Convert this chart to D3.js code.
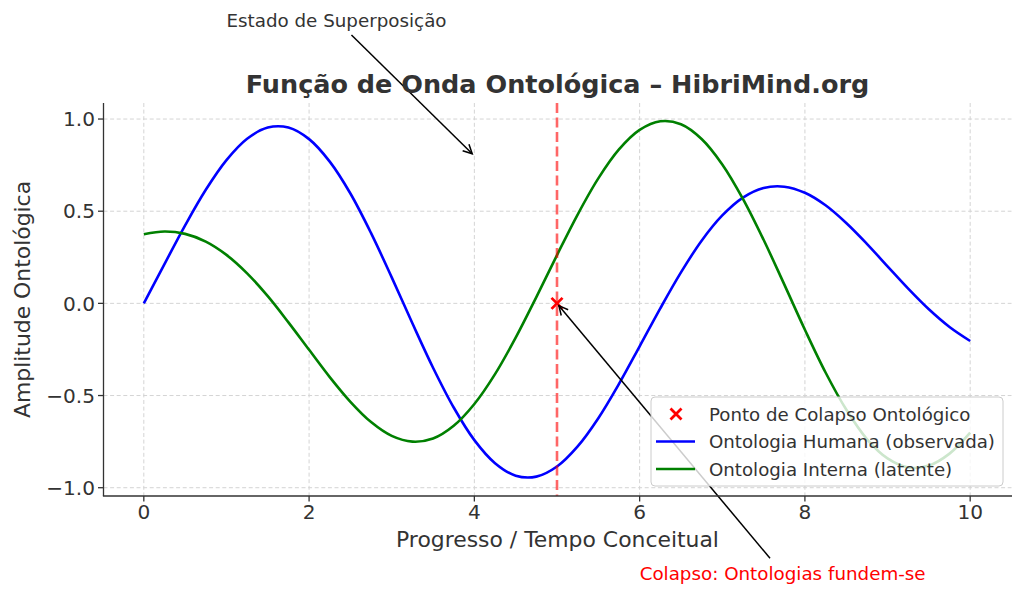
<!DOCTYPE html>
<html><head><meta charset="utf-8">
<script src="https://cdn.jsdelivr.net/npm/d3@7"></script>
<style>
body{margin:0;background:#fff}
svg{display:block}
text{font-family:"DejaVu Sans","Liberation Sans",sans-serif}
</style>
</head><body>
<svg id="chart" width="1024" height="597"></svg>
<script>
// ---- data ----
const xValues = [0,0.25,0.5,0.75,1,1.25,1.5,1.75,2,2.25,2.5,2.75,3,3.25,3.5,3.75,4,4.25,4.5,4.75,5,
  5.25,5.5,5.75,6,6.25,6.5,6.75,7,7.25,7.5,7.75,8,8.25,8.5,8.75,9,9.25,9.5,9.75,10];
const humana = [0,0.213,0.423,0.616,0.777,0.893,0.954,0.954,0.891,0.769,0.596,0.381,0.141,-0.108,
  -0.349,-0.565,-0.742,-0.867,-0.935,-0.940,-0.885,-0.776,-0.623,-0.437,-0.233,-0.027,0.168,0.340,
  0.477,0.574,0.626,0.633,0.600,0.532,0.436,0.323,0.201,0.080,-0.032,-0.128,-0.204];
const interna = [0.375,0.390,0.377,0.335,0.263,0.163,0.039,-0.103,-0.252,-0.400,-0.534,-0.644,-0.719,
  -0.750,-0.733,-0.664,-0.546,-0.384,-0.186,0.034,0.262,0.482,0.678,0.835,0.941,0.988,0.972,0.892,
  0.754,0.567,0.345,0.103,-0.143,-0.375,-0.576,-0.736,-0.841,-0.890,-0.880,-0.815,-0.701];
const xTicks = [0,2,4,6,8,10];
const yTicks = [-1,-0.5,0,0.5,1];
const collapseX = [5];
const collapseY = [0];
const superpositionTarget = [4, 0.8];
const superpositionTextPos = [1, 1.5];
const collapseTextPos = [6, -1.5];
const seriesNames = ["Ponto de Colapso Ontológico","Ontologia Humana (observada)","Ontologia Interna (latente)"];
const titleText = "Função de Onda Ontológica – HibriMind.org";
const xLabel = "Progresso / Tempo Conceitual";
const yLabel = "Amplitude Ontológica";
const superText = "Estado de Superposição";
const collapseText = "Colapso: Ontologias fundem-se";

// ---- layout ----
const svg = d3.select("#chart");
const L = 103.5, R = 1011.5, T = 103, B = 496;
const x = d3.scaleLinear().domain([-0.5, 10.5]).range([102.5, 1011.5]);
const y = d3.scaleLinear().domain([-1.045, 1.087]).range([B, T]);
const ink = "#333";

// grid
const grid = svg.append("g");
grid.selectAll(".gx").data(xTicks).join("line")
  .attr("x1", d => x(d)).attr("x2", d => x(d)).attr("y1", T).attr("y2", B)
  .attr("stroke", "#d4d4d4").attr("stroke-width", 1).attr("stroke-dasharray", "4,2.6");
grid.selectAll(".gy").data(yTicks).join("line")
  .attr("x1", L).attr("x2", R).attr("y1", d => y(d)).attr("y2", d => y(d))
  .attr("stroke", "#d4d4d4").attr("stroke-width", 1).attr("stroke-dasharray", "4,2.6");

// lines
const line = d3.line().x(d => x(d[0])).y(d => y(d[1])).curve(d3.curveCatmullRom.alpha(0.5));
svg.append("path").datum(xValues.map((v, i) => [v, humana[i]]))
  .attr("d", line).attr("fill", "none").attr("stroke", "#0000ff").attr("stroke-width", 2.6);
svg.append("path").datum(xValues.map((v, i) => [v, interna[i]]))
  .attr("d", line).attr("fill", "none").attr("stroke", "#008000").attr("stroke-width", 2.6);

// collapse vertical line
svg.append("line").attr("x1", x(collapseX[0])).attr("x2", x(collapseX[0]))
  .attr("y1", T).attr("y2", B).attr("stroke", "#ff0000").attr("stroke-opacity", 0.6)
  .attr("stroke-width", 2.6).attr("stroke-dasharray", "10,4.5");

// marker
function xMark(g, cx, cy, s, w) {
  g.append("path").attr("d", `M${cx - s},${cy - s}L${cx + s},${cy + s}M${cx - s},${cy + s}L${cx + s},${cy - s}`)
    .attr("stroke", "#ff0000").attr("stroke-width", w).attr("fill", "none");
}
const mk = svg.append("g");
collapseX.forEach((cx, i) => xMark(mk, x(cx), y(collapseY[i]), 5.5, 2.8));

// annotations
function arrow(textSel, tx, ty) {
  const bb = textSel.node().getBBox();
  const cx = bb.x + bb.width / 2, cy = bb.y + bb.height / 2;
  const dx = tx - cx, dy = ty - cy;
  let t = Infinity;
  if (dx !== 0) t = Math.min(t, (bb.width / 2) / Math.abs(dx));
  if (dy !== 0) t = Math.min(t, (bb.height / 2) / Math.abs(dy));
  const len = Math.hypot(dx, dy);
  const ux = dx / len, uy = dy / len;
  const sx = cx + dx * t + ux * 6, sy = cy + dy * t + uy * 6;
  const ex = tx - ux * 3, ey = ty - uy * 3;
  const g = svg.append("g").attr("stroke", "#000").attr("stroke-width", 1.5).attr("fill", "none");
  g.append("line").attr("x1", sx).attr("y1", sy).attr("x2", ex).attr("y2", ey);
  const hl = 9, hw = 4.5;
  const bx = ex - ux * hl, by = ey - uy * hl;
  g.append("path").attr("d", `M${bx - uy * hw},${by + ux * hw}L${ex},${ey}L${bx + uy * hw},${by - ux * hw}`)
    .attr("stroke-linejoin", "miter");
}
const st = svg.append("text").attr("x", x(superpositionTextPos[0])).attr("y", y(superpositionTextPos[1]))
  .attr("font-size", 18.3).attr("fill", ink).text(superText);
arrow(st, x(superpositionTarget[0]), y(superpositionTarget[1]));
const ct = svg.append("text").attr("x", x(collapseTextPos[0])).attr("y", y(collapseTextPos[1]))
  .attr("font-size", 18.3).attr("fill", "#ff0000").text(collapseText);
arrow(ct, x(collapseX[0]), y(collapseY[0]));

// legend
const lg = svg.append("g");
lg.append("rect").attr("x", 651).attr("y", 397).attr("width", 352).attr("height", 89).attr("rx", 4)
  .attr("fill", "#fff").attr("fill-opacity", 0.8).attr("stroke", "#cccccc").attr("stroke-width", 1);
const rowsY = [414, 441.5, 469];
xMark(lg, 676, rowsY[0], 5.5, 2.8);
lg.append("line").attr("x1", 656).attr("x2", 695).attr("y1", rowsY[1]).attr("y2", rowsY[1])
  .attr("stroke", "#0000ff").attr("stroke-width", 2.6);
lg.append("line").attr("x1", 656).attr("x2", 695).attr("y1", rowsY[2]).attr("y2", rowsY[2])
  .attr("stroke", "#008000").attr("stroke-width", 2.6);
lg.selectAll(".lt").data(seriesNames).join("text")
  .attr("x", 709).attr("y", (d, i) => rowsY[i]).attr("dy", "0.36em")
  .attr("font-size", 18.2).attr("fill", ink).text(d => d);

// spines
svg.append("line").attr("x1", L).attr("x2", L).attr("y1", T).attr("y2", B)
  .attr("stroke", ink).attr("stroke-width", 1.3);
svg.append("line").attr("x1", L - 0.6).attr("x2", R + 0.5).attr("y1", B).attr("y2", B)
  .attr("stroke", ink).attr("stroke-width", 1.3);

// ticks
const fmtY = d3.format(".1f");
svg.selectAll(".tx").data(xTicks).join("line")
  .attr("x1", d => x(d)).attr("x2", d => x(d)).attr("y1", B).attr("y2", B + 5.5)
  .attr("stroke", ink).attr("stroke-width", 1.3);
svg.selectAll(".txl").data(xTicks).join("text")
  .attr("x", d => x(d)).attr("y", 518.5).attr("text-anchor", "middle")
  .attr("font-size", 20.1).attr("fill", ink).text(d => d);
svg.selectAll(".ty").data(yTicks).join("line")
  .attr("x1", L - 5.5).attr("x2", L).attr("y1", d => y(d)).attr("y2", d => y(d))
  .attr("stroke", ink).attr("stroke-width", 1.3);
svg.selectAll(".tyl").data(yTicks).join("text")
  .attr("x", 95).attr("y", d => y(d)).attr("dy", "0.36em").attr("text-anchor", "end")
  .attr("font-size", 20.1).attr("fill", ink).text(d => fmtY(d));

// labels
svg.append("text").attr("x", (L + R) / 2).attr("y", 547).attr("text-anchor", "middle")
  .attr("font-size", 21.9).attr("fill", ink).text(xLabel);
svg.append("text").attr("transform", `translate(30,${(T + B) / 2}) rotate(-90)`).attr("text-anchor", "middle")
  .attr("font-size", 21.9).attr("fill", ink).text(yLabel);
svg.append("text").attr("x", (L + R) / 2).attr("y", 93).attr("text-anchor", "middle")
  .attr("font-size", 25.5).attr("font-weight", "bold").attr("fill", ink).text(titleText);
</script>
</body></html>
